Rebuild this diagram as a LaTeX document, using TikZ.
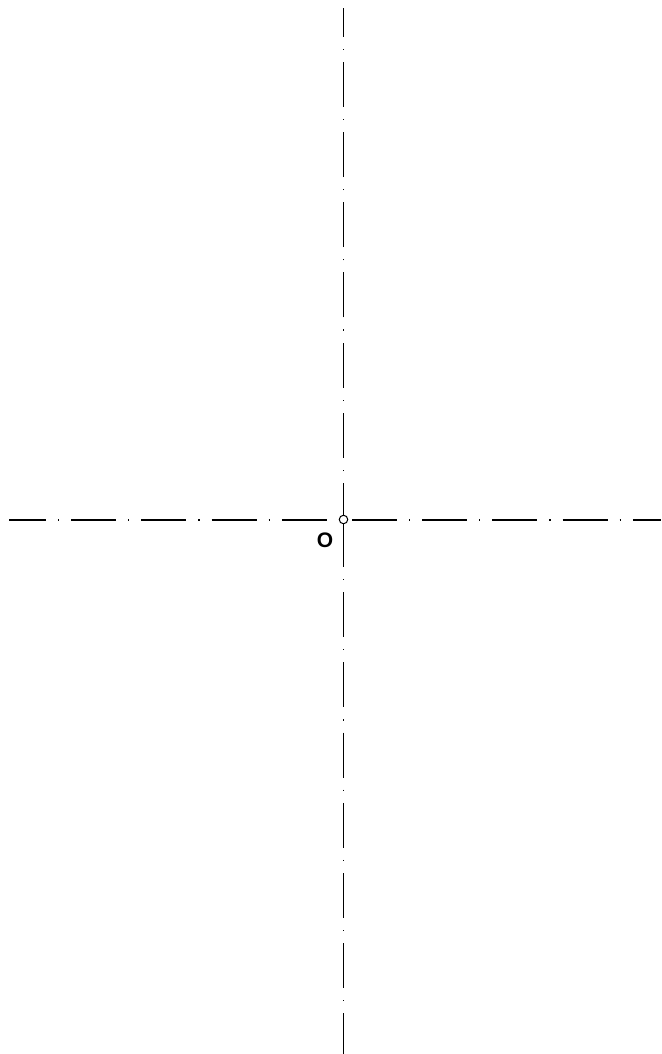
\documentclass[tikz,border=0pt]{standalone}
\usepackage{fontspec}
\setmainfont{Liberation Sans}
\begin{document}
\begin{tikzpicture}[x=1pt,y=-1pt,
  axisline/.style={line width=1.3pt, dash pattern=on 45pt off 12pt on 1.2pt off 12pt},
  origin/.style={circle, draw, fill=white, line width=1pt, minimum size=8.5pt, inner sep=0pt},
  lbl/.style={font=\fontsize{21}{24}\selectfont\bfseries, inner sep=0pt}]
\useasboundingbox[fill=white] (0,0) rectangle (661,1054);
\coordinate (vtop) at (343.5,8);
\coordinate (vup) at (343.5,528);
\coordinate (vdown) at (343.5,522);
\coordinate (vbot) at (343.5,1054);
\coordinate (hleft) at (9,520);
\coordinate (hright) at (661,520);
\draw[axisline] (vup) -- (vtop);
\draw[axisline] (vdown) -- (vbot);
\draw[axisline, dash phase=8pt] (hleft) -- (hright);
\node[origin] (o) at (343.5,519.5) {};
\node[lbl] (olabel) at (325,540) {O};
\end{tikzpicture}
\end{document}
